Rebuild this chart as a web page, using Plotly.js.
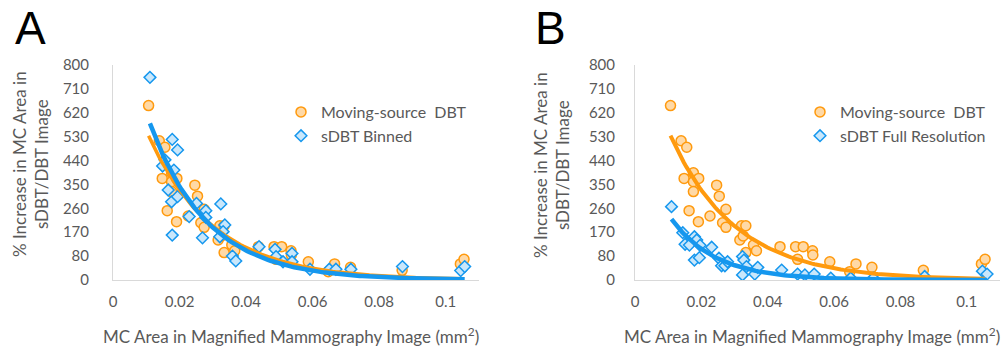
<!DOCTYPE html>
<html>
<head>
<meta charset="utf-8">
<script src="https://cdn.plot.ly/plotly-3.0.1.min.js"></script>
<style>html,body{margin:0;padding:0;background:#fff;}#chart{width:1006px;height:349px;}</style>
</head>
<body>
<div id="chart"></div>
<script>
// ---------- data ----------
// Moving-source DBT (same measurements shown in panels A and B)
const movingX = [0.0107,0.0139,0.0156,0.0148,0.0176,0.0176,0.0192,0.0176,0.0163,0.0191,0.0226,0.0246,0.0254,0.0274,0.0264,0.0274,0.0316,0.0321,0.0334,0.0326,0.0334,0.0357,0.0366,0.0437,0.0484,0.0490,0.0507,0.0535,0.0536,0.0587,0.0647,0.0666,0.0714,0.0869,0.1044,0.1055];
const movingY = [649,518,494,378,399,366,378,329,258,217,238,353,312,263,213,196,149,202,202,164,102,130,109,124,124,77,124,109,93,68,31,60,47,36,60,77];

// sDBT Binned (panel A)
const binnedX = [0.0111,0.0178,0.0194,0.0149,0.0156,0.0183,0.0166,0.0176,0.0194,0.0178,0.0229,0.0251,0.0279,0.0279,0.0269,0.0324,0.0336,0.0331,0.0321,0.0359,0.0369,0.0439,0.0487,0.0490,0.0511,0.0538,0.0538,0.0592,0.0650,0.0670,0.0715,0.0870,0.1045,0.1057];
const binnedY = [754,523,484,424,447,409,335,291,310,167,236,285,258,233,157,283,205,180,161,89,71,124,114,87,68,99,68,40,40,40,40,50,35,50];

// sDBT Full Resolution (panel B)
const fullX = [0.0110,0.0144,0.0151,0.0164,0.0179,0.0186,0.0196,0.0179,0.0194,0.0231,0.0253,0.0261,0.0271,0.0279,0.0324,0.0328,0.0336,0.0324,0.0361,0.0370,0.0442,0.0490,0.0512,0.0540,0.0590,0.0650,0.0718,0.0873,0.1047,0.1061];
const fullY = [273,176,133,130,161,149,129,74,83,122,81,53,53,68,87,74,50,19,22,47,37,22,19,22,7,7,7,13,33,22];

// tick labels
const xTickLabels = ['0','0.02','0.04','0.06','0.08','0.1'];
const xTickValues = [0,0.02,0.04,0.06,0.08,0.1];
const yTickLabels = ['0','80','170','260','350','440','530','620','710','800'];
const yMax = 800;

const seriesNames = ['Moving-source  DBT','sDBT Binned','sDBT Full Resolution'];
const panelLetters = ['A','B'];
const xTitle = 'MC Area in Magnified Mammography Image (mm<sup>2</sup>)';
const yTitle = '% Increase in MC Area in<br>sDBT/DBT Image';

// ---------- styling ----------
const ORANGE = '#FF9A0E', ORANGE_FILL = '#FFD9A6';
const BLUE = '#1597EE', BLUE_FILL = '#C9E7FB';
const FONT = 'Lato, "Open Sans", sans-serif';
const GREY = '#595959';

// exponential trendline y = a*exp(b*x), least squares fit on y
function expTrend(xs, ys, n) {
  let best = {sse:Infinity, a:0, b:0};
  for (let b = -200; b <= 0; b += 0.05) {
    let num = 0, den = 0;
    for (let i = 0; i < xs.length; i++) { const e = Math.exp(b*xs[i]); num += ys[i]*e; den += e*e; }
    const a = num/den;
    let sse = 0;
    for (let i = 0; i < xs.length; i++) { const r = ys[i] - a*Math.exp(b*xs[i]); sse += r*r; }
    if (sse < best.sse) best = {sse, a, b};
  }
  const x0 = Math.min(...xs), x1 = Math.max(...xs);
  const tx=[], ty=[];
  for (let i=0;i<=n;i++){ const x = x0+(x1-x0)*i/n; tx.push(x); ty.push(best.a*Math.exp(best.b*x)); }
  return {x:tx, y:ty};
}

const mOrange = {symbol:'circle', size:10, color:ORANGE_FILL, line:{color:ORANGE, width:1.5}};
const mBlue = {symbol:'diamond', size:9, color:BLUE_FILL, line:{color:BLUE, width:1.5}};

const tA1 = expTrend(movingX, movingY, 120);
const tA2 = expTrend(binnedX, binnedY, 120);
const tB2 = expTrend(fullX, fullY, 120);

const traces = [
  {x:movingX, y:movingY, type:'scatter', mode:'markers', name:seriesNames[0], marker:mOrange, xaxis:'x', yaxis:'y', legend:'legend'},
  {x:binnedX, y:binnedY, type:'scatter', mode:'markers', name:seriesNames[1], marker:mBlue, xaxis:'x', yaxis:'y', legend:'legend'},
  {x:tA1.x, y:tA1.y, type:'scatter', mode:'lines', line:{color:ORANGE, width:3.5}, showlegend:false, xaxis:'x', yaxis:'y', hoverinfo:'skip'},
  {x:tA2.x, y:tA2.y, type:'scatter', mode:'lines', line:{color:BLUE, width:4.5}, showlegend:false, xaxis:'x', yaxis:'y', hoverinfo:'skip'},

  {x:movingX, y:movingY, type:'scatter', mode:'markers', name:seriesNames[0], marker:mOrange, xaxis:'x2', yaxis:'y2', legend:'legend2'},
  {x:fullX, y:fullY, type:'scatter', mode:'markers', name:seriesNames[2], marker:mBlue, xaxis:'x2', yaxis:'y2', legend:'legend2'},
  {x:tA1.x, y:tA1.y, type:'scatter', mode:'lines', line:{color:ORANGE, width:4}, showlegend:false, xaxis:'x2', yaxis:'y2', hoverinfo:'skip'},
  {x:tB2.x, y:tB2.y, type:'scatter', mode:'lines', line:{color:BLUE, width:4.5}, showlegend:false, xaxis:'x2', yaxis:'y2', hoverinfo:'skip'}
];

const W = 1006, H = 349;
const px = v => v / W, py = v => (H - v) / H;

const yTickVals = yTickLabels.map((_, i) => i * yMax / (yTickLabels.length - 1));

function xAxis(domain, anchor) {
  return {domain, anchor, range:[0,0.11], tickvals:xTickValues, ticktext:xTickLabels,
    showline:true, linecolor:'#d9d9d9', linewidth:1, showgrid:false, zeroline:false,
    ticks:'', ticklabelstandoff:8, tickfont:{family:FONT, size:15, color:GREY}};
}
function yAxis(domain, anchor, standoff) {
  return {domain, anchor, range:[0,yMax], tickvals:yTickVals, ticktext:yTickLabels,
    showline:true, linecolor:'#d9d9d9', linewidth:1, showgrid:false, zeroline:false,
    ticks:'', ticklabelstandoff:standoff, tickfont:{family:FONT, size:15, color:GREY}};
}

function ann(text, x, y, size, color, family, angle) {
  return {text, xref:'paper', yref:'paper', x:px(x), y:py(y), xanchor:'center', yanchor:'middle',
    textangle:angle||0, showarrow:false, font:{family, size, color}};
}

const yDom = [py(280), py(65)];
const LETTER_FONT = '"Liberation Sans", Arial, sans-serif';
const layout = {
  width:W, height:H, margin:{l:0,r:0,t:0,b:0}, paper_bgcolor:'#fff', plot_bgcolor:'#fff',
  font:{family:FONT, color:GREY},
  xaxis: xAxis([px(113), px(479)], 'y'),
  yaxis: yAxis(yDom, 'x', 20),
  xaxis2: xAxis([px(635), px(1000)], 'y2'),
  yaxis2: yAxis(yDom, 'x2', 16),
  legend:{x:px(281), y:py(95), xanchor:'left', yanchor:'top', bgcolor:'rgba(0,0,0,0)', font:{family:FONT, size:16, color:GREY}},
  legend2:{x:px(800), y:py(95), xanchor:'left', yanchor:'top', bgcolor:'rgba(0,0,0,0)', font:{family:FONT, size:16, color:GREY}},
  annotations:[
    ann(panelLetters[0], 30, 28, 46, '#000', LETTER_FONT),
    ann(panelLetters[1], 550, 28, 46, '#000', LETTER_FONT),
    ann(yTitle, 31, 164, 17, GREY, FONT, -90),
    ann(yTitle, 551, 165, 17, GREY, FONT, -90),
    ann(xTitle, 291, 335, 17, GREY, FONT),
    ann(xTitle, 812, 335, 17, GREY, FONT)
  ]
};

Plotly.newPlot('chart', traces, layout, {displayModeBar:false, staticPlot:true});
</script>
</body>
</html>
